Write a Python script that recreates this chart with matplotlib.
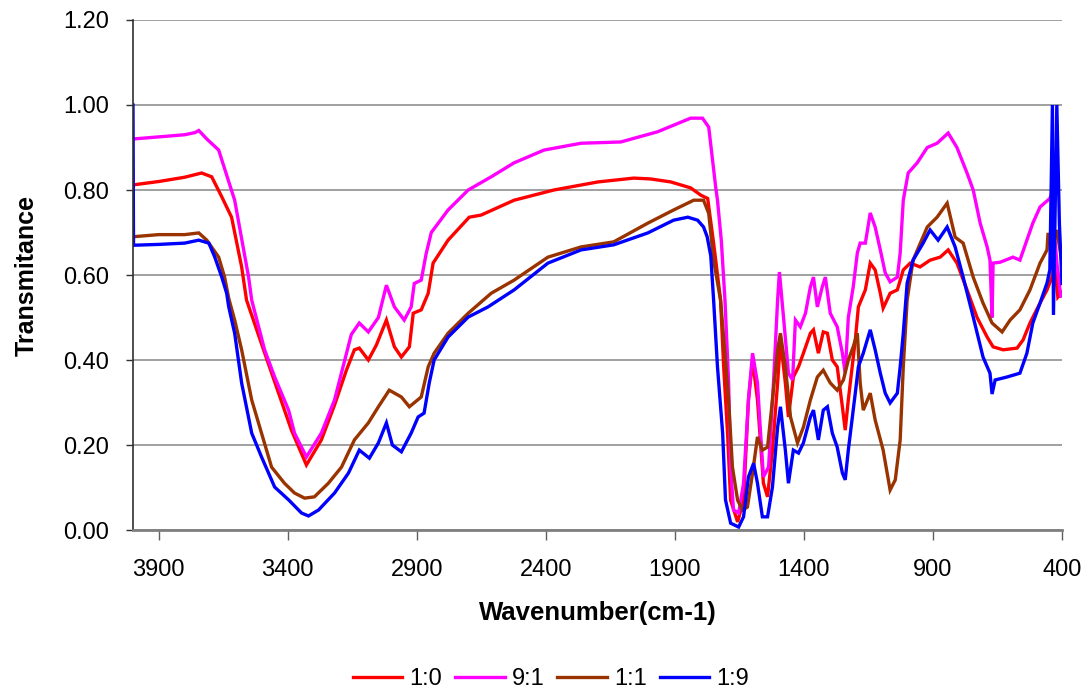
import matplotlib
matplotlib.use("Agg")
import matplotlib.pyplot as plt
import numpy as np

plt.rcParams['font.family'] = ['Liberation Sans', 'DejaVu Sans']

# wavenumber / transmittance
wn_10 = [4000, 3900, 3800, 3734, 3695, 3656, 3618, 3579, 3560, 3494, 3386, 3328, 3270, 3219,
         3173, 3142, 3123, 3088, 3057, 3018, 2987, 2960, 2929, 2914, 2883, 2856, 2837, 2779,
         2697, 2651, 2523, 2369, 2198, 2059, 1994, 1916, 1839, 1800, 1773, 1750, 1723, 1711,
         1696, 1684, 1657, 1634, 1615, 1599, 1580, 1557, 1541, 1522, 1502, 1491, 1472, 1460,
         1441, 1421, 1402, 1375, 1363, 1344, 1325, 1309, 1290, 1271, 1251, 1240, 1228, 1201,
         1189, 1162, 1143, 1124, 1104, 1093, 1066, 1038, 1015, 988, 950, 911, 872, 841, 807,
         768, 729, 690, 667, 628, 574, 551, 524, 485, 458, 439, 428, 416, 400]
t_10 = [0.812, 0.82, 0.83, 0.84, 0.831, 0.784, 0.736, 0.619, 0.541, 0.424, 0.235, 0.153, 0.212, 0.294,
        0.376, 0.424, 0.428, 0.40, 0.435, 0.494, 0.431, 0.407, 0.431, 0.51, 0.518, 0.557, 0.628, 0.682,
        0.736, 0.741, 0.776, 0.80, 0.819, 0.828, 0.826, 0.819, 0.805, 0.788, 0.78, 0.675, 0.541, 0.384,
        0.228, 0.07, 0.019, 0.07, 0.306, 0.40, 0.306, 0.11, 0.078, 0.188, 0.346, 0.447, 0.346, 0.266,
        0.36, 0.384, 0.416, 0.463, 0.471, 0.416, 0.466, 0.463, 0.40, 0.384, 0.29, 0.235, 0.306, 0.447,
        0.525, 0.565, 0.628, 0.612, 0.557, 0.522, 0.557, 0.565, 0.612, 0.628, 0.619, 0.635, 0.642, 0.659, 0.628,
        0.565, 0.50, 0.454, 0.431, 0.424, 0.428, 0.447, 0.487, 0.534, 0.565, 0.595, 0.628, 0.548, 0.56]

wn_91 = [4000, 3900, 3800, 3760, 3745, 3714, 3668, 3606, 3552, 3540, 3490, 3451, 3397, 3374,
         3328, 3270, 3219, 3154, 3123, 3088, 3049, 3018, 2987, 2949, 2922, 2910, 2883, 2864,
         2844, 2779, 2701, 2612, 2523, 2407, 2264, 2110, 1967, 1839, 1793, 1769, 1754, 1742,
         1735, 1720, 1706, 1692, 1684, 1673, 1653, 1634, 1615, 1599, 1580, 1568, 1557, 1537,
         1518, 1502, 1495, 1479, 1460, 1444, 1433, 1414, 1394, 1375, 1363, 1348, 1329, 1317,
         1298, 1271, 1251, 1240, 1228, 1209, 1193, 1182, 1162, 1143, 1124, 1104, 1085, 1066,
         1038, 1027, 1015, 996, 961, 922, 884, 841, 807, 768, 744, 717, 690, 679, 671, 667,
         640, 590, 563, 536, 513, 485, 447, 439, 432, 420, 405]
t_91 = [0.92, 0.925, 0.93, 0.935, 0.94, 0.92, 0.894, 0.776, 0.595, 0.541, 0.424, 0.36, 0.282, 0.228,
        0.172, 0.228, 0.306, 0.46, 0.487, 0.466, 0.50, 0.576, 0.525, 0.494, 0.525, 0.58, 0.588, 0.65,
        0.70, 0.753, 0.80, 0.831, 0.864, 0.894, 0.91, 0.913, 0.937, 0.969, 0.969, 0.948, 0.87, 0.807,
        0.776, 0.68, 0.541, 0.35, 0.148, 0.047, 0.04, 0.11, 0.306, 0.416, 0.346, 0.228, 0.125, 0.148,
        0.346, 0.541, 0.607, 0.50, 0.369, 0.353, 0.494, 0.478, 0.51, 0.572, 0.595, 0.525, 0.572, 0.595,
        0.51, 0.478, 0.416, 0.369, 0.50, 0.572, 0.652, 0.675, 0.675, 0.746, 0.713, 0.659, 0.605, 0.584,
        0.595, 0.652, 0.776, 0.84, 0.864, 0.90, 0.91, 0.934, 0.90, 0.84, 0.80, 0.722, 0.666, 0.635, 0.50, 0.628,
        0.63, 0.642, 0.635, 0.682, 0.722, 0.76, 0.78, 0.793, 0.72, 0.63, 0.55]

wn_11 = [4000, 3900, 3800, 3745, 3714, 3668, 3645, 3629, 3606, 3579, 3540, 3502, 3463, 3413,
         3374, 3335, 3297, 3243, 3192, 3142, 3088, 3049, 3007, 2960, 2929, 2883, 2856, 2833,
         2779, 2701, 2612, 2523, 2392, 2264, 2137, 2005, 1905, 1827, 1789, 1769, 1750, 1723,
         1704, 1692, 1677, 1657, 1638, 1619, 1599, 1580, 1561, 1541, 1522, 1502, 1491, 1472,
         1452, 1425, 1402, 1375, 1348, 1325, 1298, 1271, 1247, 1228, 1209, 1193, 1182, 1170,
         1143, 1124, 1093, 1066, 1046, 1027, 1015, 1000, 977, 922, 884, 845, 814, 783, 744,
         706, 671, 632, 601, 563, 524, 485, 458, 454, 439, 420, 400]
t_11 = [0.69, 0.695, 0.695, 0.699, 0.682, 0.642, 0.595, 0.545, 0.494, 0.424, 0.306, 0.228, 0.148, 0.11,
        0.087, 0.075, 0.078, 0.11, 0.148, 0.212, 0.252, 0.29, 0.329, 0.313, 0.29, 0.313, 0.384, 0.416,
        0.463, 0.51, 0.557, 0.588, 0.642, 0.666, 0.678, 0.722, 0.753, 0.776, 0.776, 0.745, 0.635, 0.541,
        0.40, 0.306, 0.148, 0.07, 0.047, 0.054, 0.134, 0.219, 0.188, 0.195, 0.306, 0.424, 0.463, 0.384,
        0.266, 0.205, 0.242, 0.306, 0.36, 0.376, 0.346, 0.329, 0.353, 0.40, 0.431, 0.463, 0.346, 0.282,
        0.322, 0.259, 0.188, 0.094, 0.118, 0.212, 0.384, 0.541, 0.635, 0.713, 0.736, 0.769, 0.689, 0.675, 0.595,
        0.534, 0.487, 0.466, 0.494, 0.518, 0.565, 0.628, 0.659, 0.699, 0.659, 0.706, 0.63]

wn_19 = [4000, 3998, 3900, 3800, 3745, 3706, 3683, 3656, 3637, 3629, 3606, 3579, 3540, 3502,
         3451, 3397, 3347, 3320, 3281, 3219, 3165, 3123, 3084, 3049, 3018, 2995, 2960, 2922,
         2895, 2872, 2852, 2833, 2779, 2701, 2624, 2523, 2392, 2264, 2137, 2005, 1905, 1850,
         1812, 1789, 1775, 1761, 1750, 1735, 1715, 1704, 1684, 1653, 1634, 1615, 1595, 1580,
         1561, 1541, 1522, 1502, 1491, 1472, 1460, 1441, 1421, 1402, 1375, 1363, 1344, 1325,
         1309, 1290, 1271, 1251, 1240, 1228, 1201, 1189, 1170, 1143, 1124, 1104, 1085, 1066,
         1038, 1027, 1015, 1000, 977, 938, 911, 880, 845, 814, 783, 744, 706, 679, 671, 659,
         613, 563, 536, 513, 485, 458, 447, 437, 433, 420, 410, 400]
t_19 = [1.0, 0.67, 0.672, 0.675, 0.682, 0.675, 0.642, 0.595, 0.557, 0.525, 0.463, 0.346, 0.228, 0.172,
        0.101, 0.071, 0.04, 0.033, 0.047, 0.087, 0.134, 0.188, 0.169, 0.205, 0.252, 0.20, 0.184, 0.228,
        0.266, 0.275, 0.346, 0.40, 0.454, 0.501, 0.525, 0.565, 0.628, 0.659, 0.671, 0.699, 0.729, 0.736,
        0.729, 0.713, 0.69, 0.645, 0.541, 0.384, 0.228, 0.071, 0.016, 0.007, 0.031, 0.125, 0.157, 0.11,
        0.031, 0.031, 0.101, 0.242, 0.29, 0.188, 0.11, 0.188, 0.181, 0.205, 0.266, 0.282, 0.212, 0.282,
        0.29, 0.228, 0.195, 0.134, 0.118, 0.188, 0.322, 0.384, 0.416, 0.471, 0.424, 0.369, 0.322, 0.299,
        0.322, 0.384, 0.463, 0.581, 0.635, 0.675, 0.706, 0.682, 0.713, 0.666, 0.595, 0.501, 0.407, 0.369, 0.32, 0.353,
        0.36, 0.369, 0.416, 0.487, 0.534, 0.581, 0.612, 1.0, 0.506, 1.0, 0.72, 0.58]

labels = ['1:0', '9:1', '1:1', '1:9']
colors = ['#FF0000', '#FF00FF', '#993300', '#0000FF']
x_ticks = [3900, 3400, 2900, 2400, 1900, 1400, 900, 400]
y_ticks = [0.0, 0.2, 0.4, 0.6, 0.8, 1.0, 1.2]

fig = plt.figure(figsize=(10.91, 6.92), dpi=100)
ax = fig.add_axes([0.1219, 0.2341, 0.8515, 0.737])

series = [(wn_10, t_10), (wn_91, t_91), (wn_11, t_11), (wn_19, t_19)]
for (x, y), lab, c in zip(series, labels, colors):
    ax.plot(x, y, color=c, lw=2.4, label=lab, solid_joinstyle='miter')

ax.set_xlim(4000, 400)
ax.set_ylim(0, 1.2)
ax.set_xticks(x_ticks)
ax.set_yticks(y_ticks)
ax.set_yticklabels(['%.2f' % v for v in y_ticks])
ax.yaxis.grid(True, color='#868686', lw=1.1)
ax.set_axisbelow(True)

for s in ['top', 'right']:
    ax.spines[s].set_visible(False)
ax.spines['left'].set_color('#303030')
ax.spines['left'].set_linewidth(1.2)
ax.spines['bottom'].set_color('#808080')
ax.spines['bottom'].set_linewidth(2)

ax.tick_params(axis='x', direction='out', length=7, width=1, color='#606060',
               labelsize=17, pad=14)
ax.tick_params(axis='y', direction='out', length=5, width=1, color='#303030',
               labelsize=17, pad=12)

ax.set_xlabel('Wavenumber(cm-1)', fontsize=18.5, fontweight='bold', labelpad=14)
ax.set_ylabel('Transmitance', fontsize=18, fontweight='bold', labelpad=18)

fig.legend(loc='lower center', bbox_to_anchor=(0.505, -0.028), ncol=4, frameon=False,
           fontsize=17, handlelength=2.1, handletextpad=0.3, columnspacing=0.55)

fig.savefig('out.png', dpi=100)
